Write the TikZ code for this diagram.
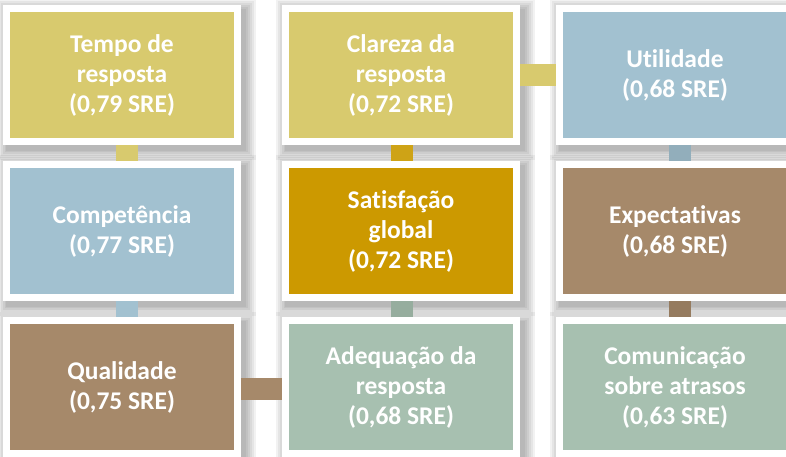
\documentclass[tikz,border=0pt]{standalone}
\usepackage{fontspec}
\setmainfont{Carlito}[Ligatures=CommonOff]
\usepackage{tikz}
\usetikzlibrary{positioning}
\definecolor{tileyellow}{RGB}{216,202,110}
\definecolor{tileblue}{RGB}{162,193,208}
\definecolor{tilebrown}{RGB}{166,137,106}
\definecolor{tilegold}{RGB}{204,153,0}
\definecolor{tilegreen}{RGB}{167,192,176}
\tikzset{
  shadow layer/.style={preaction={draw=black,draw opacity=0.05,line width=#1,
    transform canvas={shift={(4pt,-5pt)}}}},
  soft shadow/.style={shadow layer=28pt,shadow layer=24pt,shadow layer=20pt,
    shadow layer=16pt,shadow layer=12pt,shadow layer=9pt},
  tile/.style={rectangle,soft shadow,draw=white,line width=7pt,minimum width=231pt,
    minimum height=133pt,inner sep=0pt,align=center,text=white,
    font=\bfseries\fontsize{25.5}{30}\selectfont},
  link/.style={line width=22pt}
}
\begin{document}
\begin{tikzpicture}[x=1pt,y=1pt]
\useasboundingbox[fill=white] (0,0) rectangle (786,457);
\node[tile,fill=tileyellow] (tempo) at (122,382) {Tempo de\\resposta\\(0,79 SRE)};
\node[tile,fill=tileyellow] (clareza) at (401,382) {Clareza da\\resposta\\(0,72 SRE)};
\node[tile,fill=tileblue] (util) at (675,382) {Utilidade\\(0,68 SRE)};
\node[tile,fill=tileblue] (comp) at (122,226) {Competência\\(0,77 SRE)};
\node[tile,fill=tilegold] (satisf) at (401,226) {Satisfação\\global\\(0,72 SRE)};
\node[tile,fill=tilebrown] (expect) at (675,226) {Expectativas\\(0,68 SRE)};
\node[tile,fill=tilebrown] (qual) at (122,69.5) {Qualidade\\(0,75 SRE)};
\node[tile,fill=tilegreen] (adeq) at (401,69.5) {Adequação da\\resposta\\(0,68 SRE)};
\node[tile,fill=tilegreen] (comun) at (675,69.5) {Comunicação\\sobre atrasos\\(0,63 SRE)};
% links between the tiles
\draw[link,tileyellow] ([xshift=4.5pt]tempo.south) -- ([xshift=4.5pt]comp.north);
\draw[link,tileblue] ([xshift=4.5pt]comp.south) -- ([xshift=4.5pt]qual.north);
\draw[link,tilebrown] ([yshift=-2pt]qual.east) -- ([yshift=-2pt]adeq.west);
\draw[link,tilegreen!90!black] ([xshift=1pt]adeq.north) -- ([xshift=1pt]satisf.south);
\draw[link,tilegold!80!tileyellow] ([xshift=1pt]satisf.north) -- ([xshift=1pt]clareza.south);
\draw[link,tileyellow] (clareza) -- (util);
\draw[link,tileblue!90!black] ([xshift=4.5pt]util.south) -- ([xshift=4.5pt]expect.north);
\draw[link,tilebrown!90!black] ([xshift=4.5pt]expect.south) -- ([xshift=4.5pt]comun.north);
\end{tikzpicture}
\end{document}
